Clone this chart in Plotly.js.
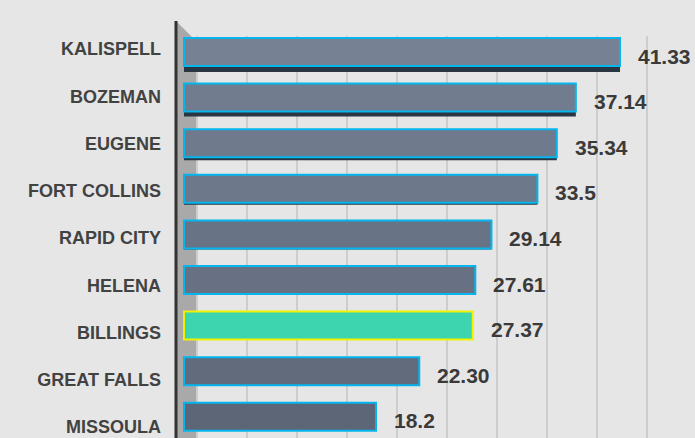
<!DOCTYPE html>
<html>
<head>
<meta charset="utf-8">
<script src="https://cdn.plot.ly/plotly-3.0.1.min.js"></script>
<style>html,body{margin:0;padding:0;background:#e6e6e6;}#chart{width:695px;height:438px;}</style>
</head>
<body>
<div id="chart"></div>
<script>
// ---- data ----
const cities = ["KALISPELL","BOZEMAN","EUGENE","FORT COLLINS","RAPID CITY","HELENA","BILLINGS","GREAT FALLS","MISSOULA"];
const values = [41.33, 37.14, 35.34, 33.5, 29.14, 27.61, 27.37, 22.30, 18.2];
const valueLabels = ["41.33","37.14","35.34","33.5","29.14","27.61","27.37","22.30","18.2"];
const highlight = "BILLINGS";

// ---- styling ----
const FONT = '"Liberation Sans", Arial, sans-serif';
const maxV = Math.max(...values), minV = Math.min(...values);
function mix(a, b, t){ return a.map((v,i)=>Math.round(v+(b[i]-v)*t)); }
const dark = [92,102,119], light = [118,130,148];
const fillColors = cities.map((c,i)=> c===highlight ? '#3dd4b0' :
  'rgb(' + mix(dark, light, (values[i]-minV)/(maxV-minV)).join(',') + ')');
const lineColors = cities.map(c=> c===highlight ? '#f2f200' : '#05b6ee');
// depth of the visible underside (perspective) per row, px
const underPx = [6,5,3,2,1,0,0,0,0];
const unit = 45.6;              // px per category
const bodyW = 28/unit;
const underW = underPx.map(p => bodyW + p/unit);

const bodyTrace = {
  type:'bar', orientation:'h', x: values, y: cities, yaxis:'y',
  width: bodyW, offset: -bodyW/2,
  marker:{color: fillColors, line:{color: lineColors, width:2}},
  hoverinfo:'skip'
};
const underTrace = {
  type:'bar', orientation:'h', x: values, y: cities, yaxis:'y',
  width: underW, offset: -bodyW/2,
  marker:{color:'#2a3642', line:{width:0}},
  hoverinfo:'skip'
};
const labelTrace = {
  type:'scatter', mode:'markers', x: values, y: cities, yaxis:'y2',
  marker:{opacity:0}, hoverinfo:'skip', showlegend:false
};

// plot area geometry (px)
const L = 176, T = 36, W = 695 - L, H = 438 - T;
const px = X => (X - L)/W, py = Y => 1 - (Y - T)/H;

const annotations = values.map((v,i)=>({
  x: v, y: cities[i], xref:'x', yref:'y', text: valueLabels[i],
  xanchor:'left', yanchor:'middle', xshift: 16, yshift: -4, showarrow:false,
  font:{family: FONT, size:21, color:'#3a3a3a', weight:'bold'}
}));

const layout = {
  width:695, height:438,
  paper_bgcolor:'#e6e6e6', plot_bgcolor:'#e6e6e6',
  margin:{l:L, r:0, t:T, b:0, pad:0},
  showlegend:false, barmode:'overlay',
  xaxis:{range:[(176-184)/10.55, (695-184)/10.55], showticklabels:false, zeroline:false,
         showgrid:true, gridcolor:'#cdcdcd', gridwidth:2, tick0:(197-184)/10.55, dtick:50/10.55,
         ticks:'', showline:false, fixedrange:true},
  yaxis:{type:'category', categoryorder:'array', categoryarray:cities,
         range:[8 + (438-416.8)/unit, -(52-T)/unit],
         showticklabels:false, showgrid:false, zeroline:false, ticks:'', showline:false},
  yaxis2:{type:'category', categoryorder:'array', categoryarray:cities, overlaying:'y', side:'left',
         range:[(438-49)/47.25, (T-49)/47.25],
         showgrid:false, zeroline:false, showline:false, ticks:'', ticklabelstandoff:14,
         tickfont:{family:FONT, size:18, color:'#424242', weight:'bold'}},
  shapes:[
    {type:'path', xref:'paper', yref:'paper', layer:'between',
     path:`M ${px(177)} ${py(22)} L ${px(196)} ${py(41)} L ${px(196)} ${py(438)} L ${px(177)} ${py(438)} Z`,
     fillcolor:'#a9a9a9', line:{width:0}},
    {type:'line', xref:'paper', yref:'paper', layer:'above',
     x0:px(176), x1:px(176), y0:py(21), y1:py(438), line:{color:'#333333', width:3}}
  ],
  annotations: annotations
};

Plotly.newPlot('chart', [underTrace, bodyTrace, labelTrace], layout, {displayModeBar:false, staticPlot:true});
</script>
</body>
</html>
